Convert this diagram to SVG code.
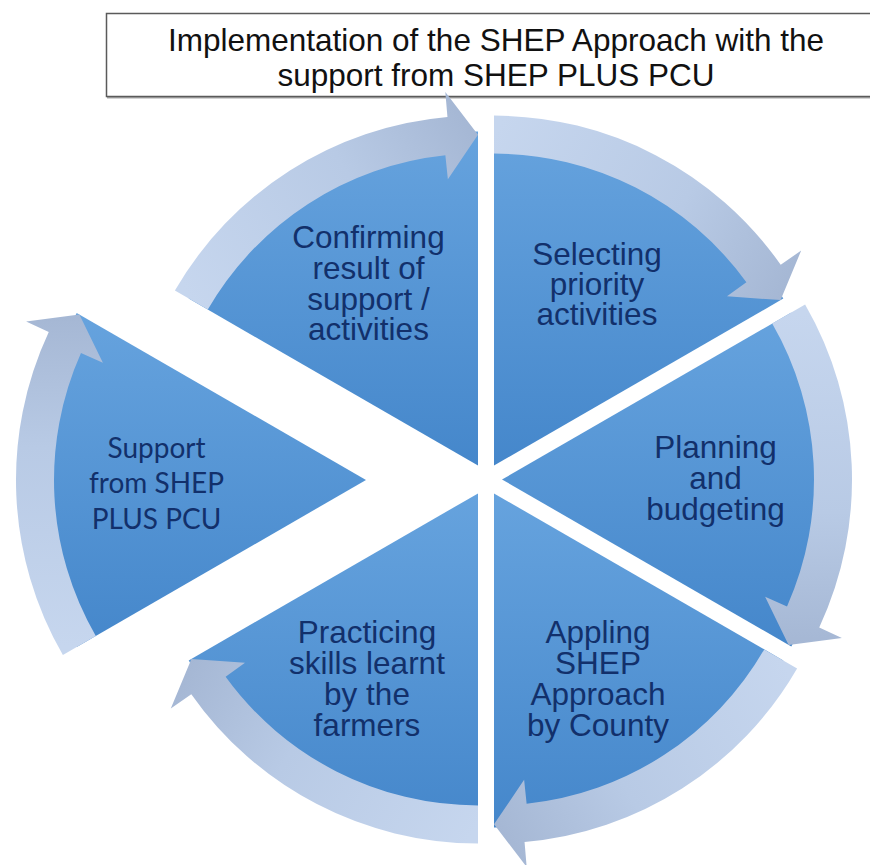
<svg xmlns="http://www.w3.org/2000/svg" xmlns:xlink="http://www.w3.org/1999/xlink" width="870" height="865" viewBox="0 0 870 865">
  <style>
    .wedge { fill: url(#wedgeFill); }
    .arrow { fill: url(#arrowFill); }
    .lbl { font-family: "Liberation Sans", Arial, sans-serif; font-size: 31.5px; fill: #12306b; text-anchor: middle; }
    .lbl2 { font-family: Lato, "Open Sans", sans-serif; font-size: 28px; fill: #12306b; text-anchor: middle; }
    .title { font-family: "Liberation Sans", Arial, sans-serif; font-size: 31.5px; fill: #111; text-anchor: middle; }
  </style>
  <defs>
    <linearGradient id="wedgeFill" x1="0" y1="0" x2="0" y2="1">
      <stop offset="0" stop-color="#66a3de"/>
      <stop offset="1" stop-color="#4587cb"/>
    </linearGradient>
    <!-- arrow gradient runs from the tail to the head in the arrow's local frame -->
    <linearGradient id="arrowFill" gradientUnits="userSpaceOnUse" x1="0" y1="-331" x2="287" y2="-166">
      <stop offset="0" stop-color="#c6d6ee"/>
      <stop offset="0.6" stop-color="#b8cae5"/>
      <stop offset="1" stop-color="#a5b7d4"/>
    </linearGradient>
    <!-- curved rim arrow for a 60 degree segment starting straight up, centred on the origin -->
    <path id="rimArrow" class="arrow" d="M0,-350 A350,350 0 0 1 286.7,-200.8 L307.2,-215.1 L286.6,-165.5 L233.0,-169.3 L252.4,-183.4 A312,312 0 0 0 0,-312 Z"/>
  </defs>

  <rect width="870" height="865" fill="#ffffff"/>

  <!-- title box -->
  <g id="title">
    <line x1="107" y1="97.5" x2="870" y2="97.5" stroke="#a8a8a8" stroke-width="2"/>
    <rect x="106.5" y="13.5" width="780" height="83" fill="#ffffff" stroke="#5a5a5a" stroke-width="1.5"/>
    <text class="title" x="496" y="51">Implementation of the SHEP Approach with the</text>
    <text class="title" x="496" y="86">support from SHEP PLUS PCU</text>
  </g>

  <g id="selecting">
    <path class="wedge" d="M494,465.6 L494,131.6 A334,334 0 0 1 783.3,298.6 Z"/>
    <use xlink:href="#rimArrow" transform="translate(494,465.6)"/>
    <text class="lbl" x="597" y="265">Selecting</text>
    <text class="lbl" x="597" y="295">priority</text>
    <text class="lbl" x="597" y="325">activities</text>
  </g>

  <g id="planning">
    <path class="wedge" d="M502,479.5 L791.3,312.5 A334,334 0 0 1 791.3,646.5 Z"/>
    <use xlink:href="#rimArrow" transform="translate(502,479.5) rotate(60)"/>
    <text class="lbl" x="715.5" y="458">Planning</text>
    <text class="lbl" x="715.5" y="489">and</text>
    <text class="lbl" x="715.5" y="520">budgeting</text>
  </g>

  <g id="appling">
    <path class="wedge" d="M494,493.4 L783.3,660.4 A334,334 0 0 1 494,827.4 Z"/>
    <use xlink:href="#rimArrow" transform="translate(494,493.4) rotate(120)"/>
    <text class="lbl" x="598" y="643">Appling</text>
    <text class="lbl" x="598" y="674">SHEP</text>
    <text class="lbl" x="598" y="705">Approach</text>
    <text class="lbl" x="598" y="736">by County</text>
  </g>

  <g id="practicing">
    <path class="wedge" d="M478,493.4 L478,827.4 A334,334 0 0 1 188.7,660.4 Z"/>
    <use xlink:href="#rimArrow" transform="translate(478,493.4) rotate(180)"/>
    <text class="lbl" x="367" y="643">Practicing</text>
    <text class="lbl" x="367" y="674">skills learnt</text>
    <text class="lbl" x="367" y="705">by the</text>
    <text class="lbl" x="367" y="736">farmers</text>
  </g>

  <g id="support">
    <path class="wedge" d="M366,480 L76.7,647 A334,334 0 0 1 76.7,313 Z"/>
    <use xlink:href="#rimArrow" transform="translate(366,480) rotate(240)"/>
    <text class="lbl2" x="156.5" y="458">Support</text>
    <text class="lbl2" x="156.5" y="493">from SHEP</text>
    <text class="lbl2" x="156.5" y="529">PLUS PCU</text>
  </g>

  <g id="confirming">
    <path class="wedge" d="M478,465.6 L188.7,298.6 A334,334 0 0 1 478,131.6 Z"/>
    <use xlink:href="#rimArrow" transform="translate(478,465.6) rotate(300)"/>
    <text class="lbl" x="368.5" y="248">Confirming</text>
    <text class="lbl" x="368.5" y="279">result of</text>
    <text class="lbl" x="368.5" y="309.5">support /</text>
    <text class="lbl" x="368.5" y="340">activities</text>
  </g>
</svg>
